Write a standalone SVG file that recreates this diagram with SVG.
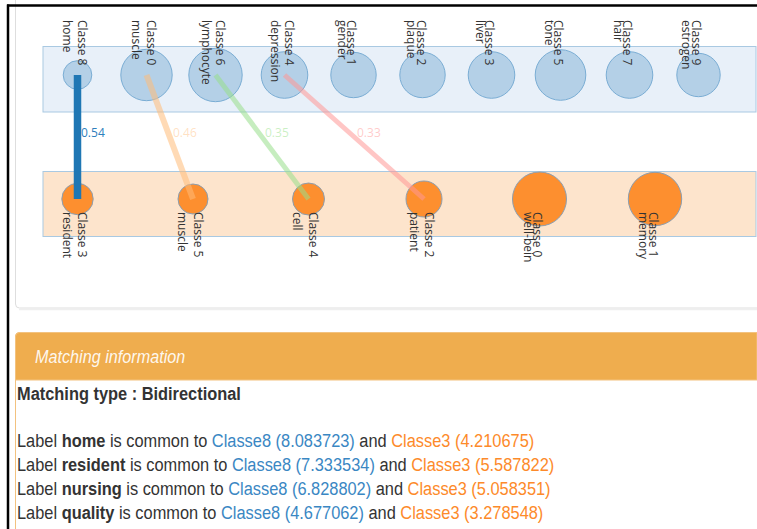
<svg xmlns="http://www.w3.org/2000/svg" width="757" height="529" viewBox="0 0 757 529">
<style>
.lbl{font-family:"Open Sans","DejaVu Sans",sans-serif;font-size:12px;fill:#333}
.sc{font-family:"Open Sans","DejaVu Sans",sans-serif;font-size:12px}
.tc{fill:#b4d0e7;stroke:#7aadd4;stroke-width:1}
.bc{fill:#fd8f2f;stroke:#8c9eb0;stroke-width:1}
.txt{font-family:"Liberation Sans",Arial,sans-serif;font-size:16.4px;fill:#333}
.b{font-weight:bold}
.c8{fill:#3a87c3}
.c3{fill:#fd8a2a}
</style>
<rect width="757" height="529" fill="#fff"/>
<g id="panel">
<rect x="15.5" y="-10" width="760" height="318" rx="4" fill="#fff" stroke="#dedede"/>
<line x1="19" y1="309.5" x2="757" y2="309.5" stroke="#efefef" stroke-width="1.5"/>
</g>
<g id="frame">
<line x1="7" y1="5.5" x2="757" y2="5.5" stroke="#000" stroke-width="2.5"/>
<line x1="8" y1="4.5" x2="8" y2="529" stroke="#000" stroke-width="2.5"/>
</g>
<g id="bands">
<rect x="43" y="46.5" width="713" height="65.5" fill="#e8f0f9" stroke="#a9c9e2"/>
<rect x="43" y="171.5" width="713" height="65" fill="#fde4cc" stroke="#a9c9e2"/>
</g>
<g id="top-nodes">
<circle id="t8" class="tc" cx="77.5" cy="75" r="14.3"/>
<circle id="t0" class="tc" cx="146.5" cy="75" r="25.7"/>
<circle id="t6" class="tc" cx="215.5" cy="75" r="26.7"/>
<circle id="t4" class="tc" cx="284.5" cy="75" r="23.3"/>
<circle id="t1" class="tc" cx="353.5" cy="75" r="22.7"/>
<circle id="t2" class="tc" cx="422.5" cy="75" r="22.7"/>
<circle id="t3" class="tc" cx="491.5" cy="75" r="23.3"/>
<circle id="t5" class="tc" cx="560.5" cy="75" r="25.3"/>
<circle id="t7" class="tc" cx="629.5" cy="75" r="23.3"/>
<circle id="t9" class="tc" cx="698.5" cy="75" r="21.7"/>
</g>
<g id="bottom-nodes">
<circle id="b3" class="bc" cx="77.5" cy="199" r="15.7"/>
<circle id="b5" class="bc" cx="193" cy="199" r="15"/>
<circle id="b4" class="bc" cx="308.5" cy="199" r="16"/>
<circle id="b2" class="bc" cx="424" cy="199" r="18"/>
<circle id="b0" class="bc" cx="539.5" cy="199" r="27"/>
<circle id="b1" class="bc" cx="655" cy="199" r="26.7"/>
</g>
<g id="connectors">
<line x1="77.5" y1="75" x2="77.5" y2="199" stroke="#1f77b4" stroke-width="7.5"/>
<line x1="146.5" y1="75" x2="193" y2="199" stroke="#ffbb78" stroke-width="6" stroke-opacity="0.55"/>
<line x1="215.5" y1="75" x2="308.5" y2="199" stroke="#98df8a" stroke-width="5" stroke-opacity="0.55"/>
<line x1="284.5" y1="75" x2="424" y2="199" stroke="#ff9896" stroke-width="5" stroke-opacity="0.55"/>
<text class="sc" x="81" y="137" fill="#2f80bd">0.54</text>
<text class="sc" x="173" y="137" fill="#ffbb78" fill-opacity="0.45">0.46</text>
<text class="sc" x="265" y="137" fill="#98df8a" fill-opacity="0.5">0.35</text>
<text class="sc" x="357" y="137" fill="#ff9896" fill-opacity="0.5">0.33</text>
</g>
<g id="top-labels" class="lbl">
<text transform="translate(78,20) rotate(90)"><tspan x="0">Classe 8</tspan><tspan x="0" dy="15.5">home</tspan></text>
<text transform="translate(147,20) rotate(90)"><tspan x="0">Classe 0</tspan><tspan x="0" dy="15.5">muscle</tspan></text>
<text transform="translate(215.5,20) rotate(90)"><tspan x="0">Classe 6</tspan><tspan x="0" dy="14">lymphocyte</tspan></text>
<text transform="translate(284.5,20) rotate(90)"><tspan x="0">Classe 4</tspan><tspan x="0" dy="14">depression</tspan></text>
<text transform="translate(347,20) rotate(90)"><tspan x="0">Classe 1</tspan><tspan x="0" dy="9.5">gender</tspan></text>
<text transform="translate(416.5,20) rotate(90)"><tspan x="0">Classe 2</tspan><tspan x="0" dy="9.5">plaque</tspan></text>
<text transform="translate(485,20) rotate(90)"><tspan x="0">Classe 3</tspan><tspan x="0" dy="9.5">liver</tspan></text>
<text transform="translate(554,20) rotate(90)"><tspan x="0">Classe 5</tspan><tspan x="0" dy="9.5">tone</tspan></text>
<text transform="translate(623,20) rotate(90)"><tspan x="0">Classe 7</tspan><tspan x="0" dy="9.5">hair</tspan></text>
<text transform="translate(691.5,20) rotate(90)"><tspan x="0">Classe 9</tspan><tspan x="0" dy="9.5">estrogen</tspan></text>
</g>
<g id="bottom-labels" class="lbl">
<text transform="translate(78,212) rotate(90)"><tspan x="0">Classe 3</tspan><tspan x="0" dy="15.5">resident</tspan></text>
<text transform="translate(193.5,212) rotate(90)"><tspan x="0">Classe 5</tspan><tspan x="0" dy="15.5">muscle</tspan></text>
<text transform="translate(308.5,212) rotate(90)"><tspan x="0">Classe 4</tspan><tspan x="0" dy="15.5">cell</tspan></text>
<text transform="translate(424.5,212) rotate(90)"><tspan x="0">Classe 2</tspan><tspan x="0" dy="15">patient</tspan></text>
<text transform="translate(533,212) rotate(90)"><tspan x="0">Classe 0</tspan><tspan x="0" dy="9.5">well-bein</tspan></text>
<text transform="translate(648.5,212) rotate(90)"><tspan x="0">Classe 1</tspan><tspan x="0" dy="9.5">memory</tspan></text>
</g>
<g id="matching-panel">
<rect x="15.5" y="332.5" width="760" height="230" rx="4" fill="#fff" stroke="#f3c27f"/>
<path d="M15.5,380 V336.5 A4,4 0 0 1 19.5,332.5 H757 V380 Z" fill="#efad4e" stroke="#f3c27f"/>
<text transform="translate(35,363) scale(1,1.1)" font-family="Liberation Sans,Arial,sans-serif" font-size="16.2" font-style="italic" fill="#fff" fill-opacity="0.92">Matching information</text>
<text class="txt b" transform="translate(17,399.5) scale(1,1.1)">Matching type : Bidirectional</text>
<text class="txt" transform="translate(17,447) scale(1,1.1)">Label <tspan class="b">home</tspan> is common to <tspan class="c8">Classe8 (8.083723)</tspan> and <tspan class="c3">Classe3 (4.210675)</tspan></text>
<text class="txt" transform="translate(17,471) scale(1,1.1)">Label <tspan class="b">resident</tspan> is common to <tspan class="c8">Classe8 (7.333534)</tspan> and <tspan class="c3">Classe3 (5.587822)</tspan></text>
<text class="txt" transform="translate(17,495) scale(1,1.1)">Label <tspan class="b">nursing</tspan> is common to <tspan class="c8">Classe8 (6.828802)</tspan> and <tspan class="c3">Classe3 (5.058351)</tspan></text>
<text class="txt" transform="translate(17,519) scale(1,1.1)">Label <tspan class="b">quality</tspan> is common to <tspan class="c8">Classe8 (4.677062)</tspan> and <tspan class="c3">Classe3 (3.278548)</tspan></text>
</g>
</svg>
